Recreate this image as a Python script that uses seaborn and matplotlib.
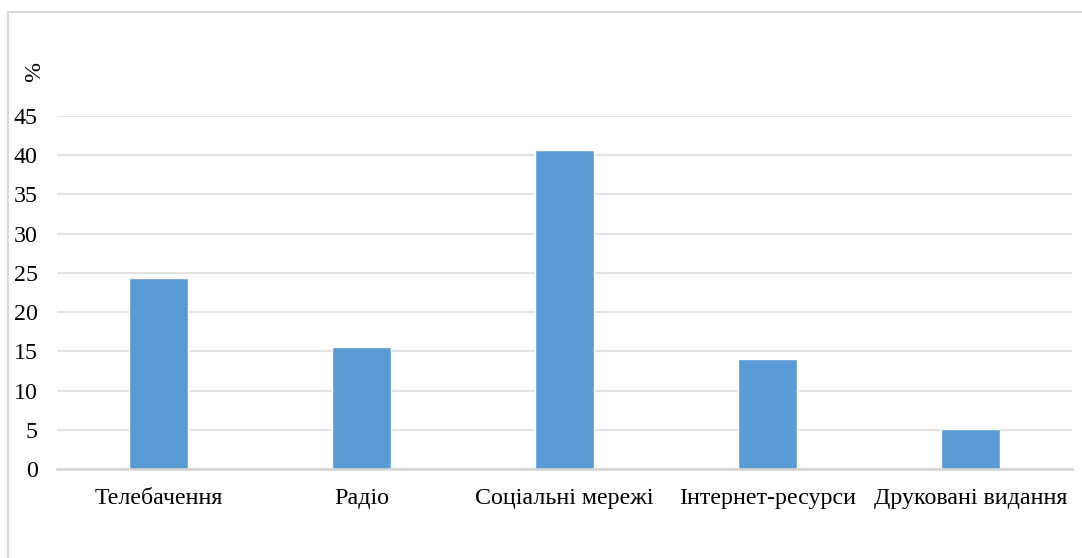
import matplotlib
matplotlib.use("Agg")
import matplotlib.pyplot as plt
import seaborn as sns
import pandas as pd

categories = ["Телебачення", "Радіо", "Соціальні мережі", "Інтернет-ресурси", "Друковані видання"]
values = [24.4, 15.5, 40.7, 14.0, 5.1]
yticks = [0, 5, 10, 15, 20, 25, 30, 35, 40, 45]

sns.set_theme(style="white")
plt.rcParams["font.family"] = ["Liberation Serif", "DejaVu Serif"]

W, H = 1082, 558
fig = plt.figure(figsize=(W / 100, H / 100), dpi=100)
ax = fig.add_axes([57 / W, 1 - 469 / H, (1072 - 57) / W, (469 - 116) / H])

df = pd.DataFrame({"category": categories, "value": values})
sns.barplot(data=df, x="category", y="value", color="#5B9BD5", saturation=1,
            width=0.286, ax=ax, zorder=3)

ax.set_ylim(0, 45)
ax.set_yticks(yticks)
ax.set_yticklabels([str(t) for t in yticks])
ax.set_xlabel("")
ax.set_ylabel("")
ax.yaxis.grid(True, color="#e3e3e3", linewidth=1.5, zorder=0)
ax.set_axisbelow(True)
for side in ["top", "right", "left"]:
    ax.spines[side].set_visible(False)
ax.spines["bottom"].set_color("#d4d4d4")
ax.spines["bottom"].set_linewidth(1.8)
ax.spines["bottom"].set_zorder(4)
ax.tick_params(axis="y", length=0, pad=14, labelsize=17.3, labelcolor="#000000")
ax.tick_params(axis="x", length=0, pad=14, labelsize=17.3, labelcolor="#000000")

fig.text(35 / W, 1 - 72 / H, "%", rotation=90, ha="center", va="center",
         fontsize=17.3, color="#000000")

# outer chart frame (open to the right and bottom)
frame_x = 8 / W
frame_top = 1 - 12 / H
fig.add_artist(plt.Line2D([frame_x, frame_x], [0, frame_top], transform=fig.transFigure,
                          color="#d9d9d9", linewidth=1.5))
fig.add_artist(plt.Line2D([frame_x, 1], [frame_top, frame_top], transform=fig.transFigure,
                          color="#d9d9d9", linewidth=1.5))

fig.savefig("out.png", dpi=100, facecolor="white")
